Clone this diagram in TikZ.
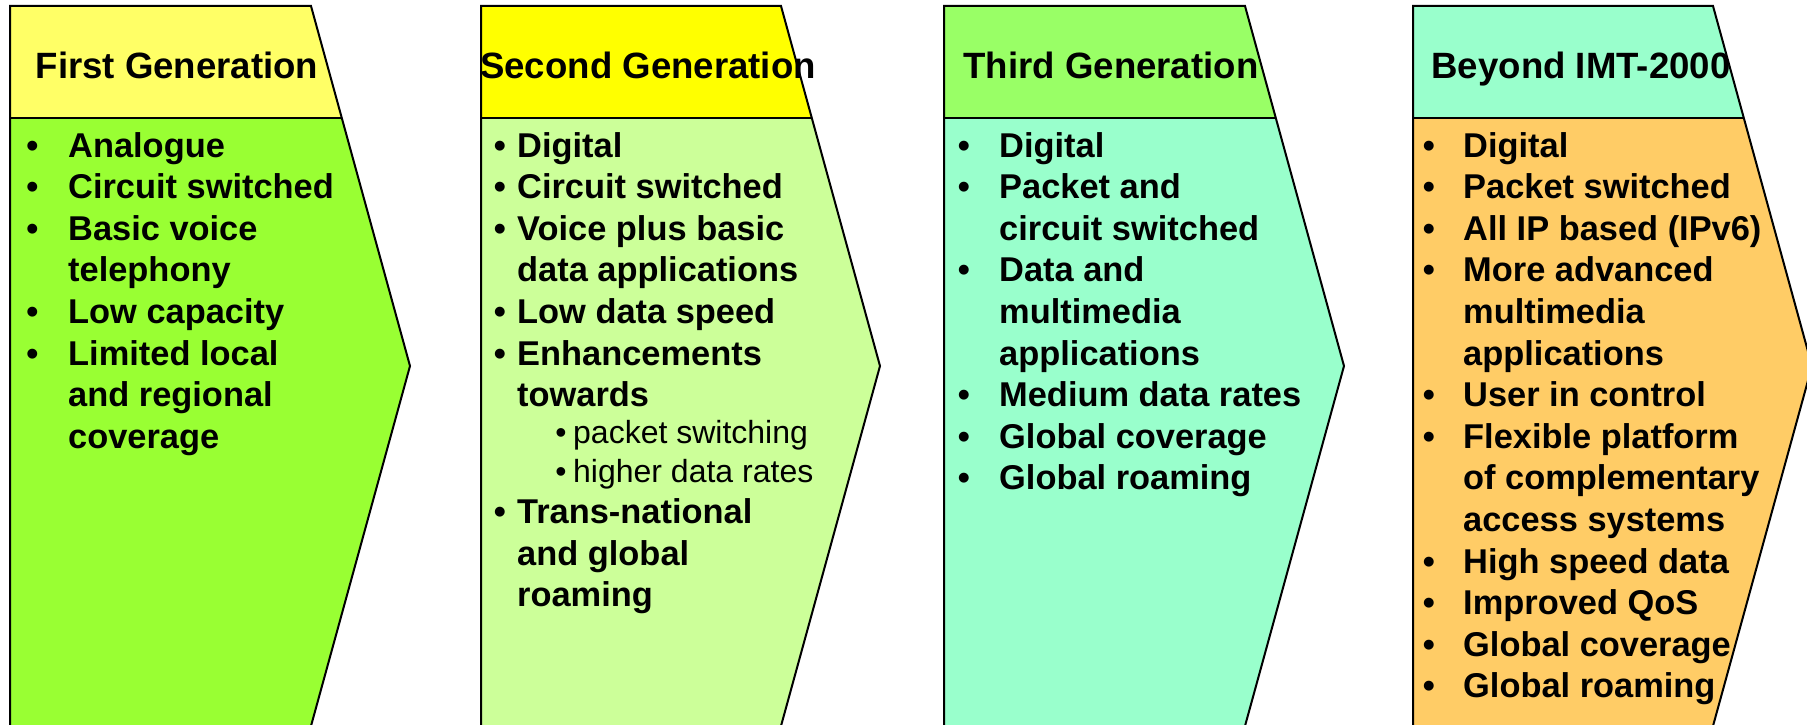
\documentclass[tikz,border=0pt]{standalone}
\usepackage{fontspec}
\setmainfont{Liberation Sans}
\definecolor{hA}{HTML}{FFFF66}
\definecolor{bA}{HTML}{99FF33}
\definecolor{hB}{HTML}{FFFF00}
\definecolor{bB}{HTML}{CCFF99}
\definecolor{hC}{HTML}{99FF66}
\definecolor{bC}{HTML}{99FFCC}
\definecolor{hD}{HTML}{99FFCC}
\definecolor{bD}{HTML}{FFCC66}
\tikzset{
  head/.style={anchor=base,inner sep=0pt,font=\fontsize{36.6}{44}\selectfont\bfseries},
  body/.style={anchor=base west,inner sep=0pt,font=\fontsize{34.4}{41.6}\selectfont\bfseries},
  bul/.style={anchor=base,inner sep=0pt,font=\fontsize{34.4}{41.6}\selectfont\bfseries},
  subt/.style={anchor=base west,inner sep=0pt,font=\fontsize{32}{38}\selectfont},
  subb/.style={anchor=base,inner sep=0pt,font=\fontsize{32}{38}\selectfont},
  outline/.style={draw=black,line width=2pt,line join=miter},
}
% #1 left, #2 right, #3 header colour, #4 body colour
\newcommand\genpanel[4]{%
  \fill[#3] (#1,6) -- (#2,6) -- ({#2+30.8},118) -- (#1,118) -- cycle;
  \fill[#4] (#1,118) -- ({#2+30.8},118) -- ({#2+99},366) -- (#2,726) -- (#1,726) -- cycle;
  \draw[outline] (#1,730) -- (#1,6) -- (#2,6) -- ({#2+99},366) -- (#2,726) -- (#2,730);
  \draw[outline] (#1,118) -- ({#2+30.8},118);
}
\newcommand\bitem[5]{\node[bul] (#1b) at (#2,#4) {•};\node[body] (#1) at (#3,#4) {#5};}
\newcommand\citem[3]{\node[body] (#1) at (#2,#3) {#3x};}
\begin{document}
\begin{tikzpicture}[x=1pt,y=-1pt]
\useasboundingbox (0,0) rectangle (1807,725);
\clip (0,0) rectangle (1807,725);
\fill[white] (0,0) rectangle (1807,725);
\genpanel{10}{311}{hA}{bA}
\genpanel{481}{781}{hB}{bB}
\genpanel{944}{1245}{hC}{bC}
\genpanel{1413}{1713}{hD}{bD}

\node[head] (h1) at (177,78) {First Generation};
\node[head] (h2) at (648,78) {Second Generation};
\node[head] (h3) at (1111,78) {Third Generation};
\node[head] (h4) at (1581,78) {Beyond IMT-2000};

% panel 1
\bitem{a1}{32.5}{68}{157}{Analogue}
\bitem{a2}{32.5}{68}{198.6}{Circuit switched}
\bitem{a3}{32.5}{68}{240.2}{Basic voice}
\node[body] (a4) at (68,281.8) {telephony};
\bitem{a5}{32.5}{68}{323.4}{Low capacity}
\bitem{a6}{32.5}{68}{365}{Limited local}
\node[body] (a7) at (68,406.6) {and regional};
\node[body] (a8) at (68,448.2) {coverage};

% panel 2
\bitem{b1}{500}{517}{157}{Digital}
\bitem{b2}{500}{517}{198.6}{Circuit switched}
\bitem{b3}{500}{517}{240.2}{Voice plus basic}
\node[body] (b4) at (517,281.8) {data applications};
\bitem{b5}{500}{517}{323.4}{Low data speed}
\bitem{b6}{500}{517}{365}{Enhancements}
\node[body] (b7) at (517,406.6) {towards};
\node[subb] (b8b) at (561,443) {•};
\node[subt] (b8) at (573,443) {packet switching};
\node[subb] (b9b) at (561,482) {•};
\node[subt] (b9) at (573,482) {higher data rates};
\bitem{b10}{500}{517}{523}{Trans-national}
\node[body] (b11) at (517,565) {and global};
\node[body] (b12) at (517,606) {roaming};

% panel 3
\bitem{c1}{964}{999}{157}{Digital}
\bitem{c2}{964}{999}{198.6}{Packet and}
\node[body] (c3) at (999,240.2) {circuit switched};
\bitem{c4}{964}{999}{281.8}{Data and}
\node[body] (c5) at (999,323.4) {multimedia};
\node[body] (c6) at (999,365) {applications};
\bitem{c7}{964}{999}{406.6}{Medium data rates}
\bitem{c8}{964}{999}{448.2}{Global coverage}
\bitem{c9}{964}{999}{489.8}{Global roaming}

% panel 4
\bitem{d1}{1429}{1463}{157}{Digital}
\bitem{d2}{1429}{1463}{198.6}{Packet switched}
\bitem{d3}{1429}{1463}{240.2}{All IP based (IPv6)}
\bitem{d4}{1429}{1463}{281.8}{More advanced}
\node[body] (d5) at (1463,323.4) {multimedia};
\node[body] (d6) at (1463,365) {applications};
\bitem{d7}{1429}{1463}{406.6}{User in control}
\bitem{d8}{1429}{1463}{448.2}{Flexible platform}
\node[body] (d9) at (1463,489.8) {of complementary};
\node[body] (d10) at (1463,531.4) {access systems};
\bitem{d11}{1429}{1463}{573}{High speed data}
\bitem{d12}{1429}{1463}{614.6}{Improved QoS}
\bitem{d13}{1429}{1463}{656.2}{Global coverage}
\bitem{d14}{1429}{1463}{697.8}{Global roaming}
\end{tikzpicture}
\end{document}
